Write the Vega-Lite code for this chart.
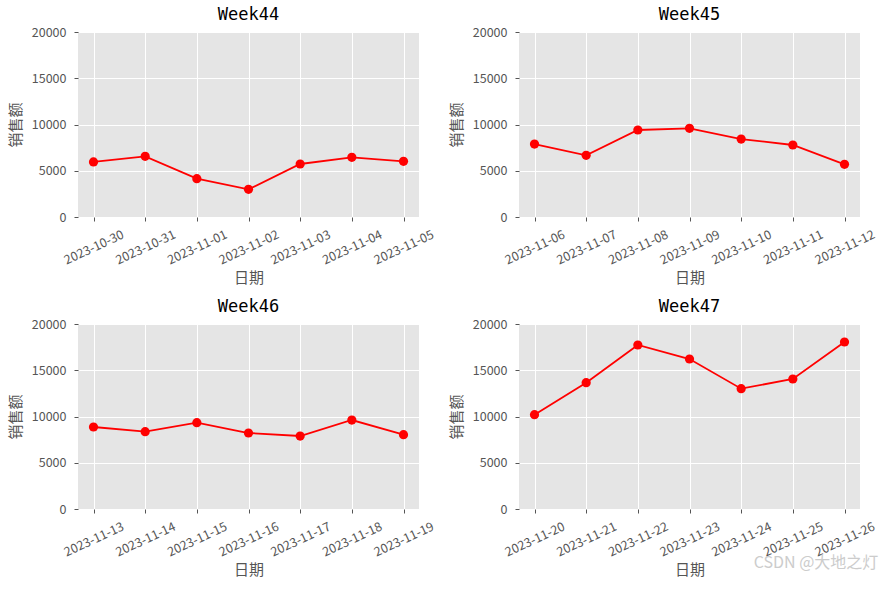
{
  "$schema": "https://vega.github.io/schema/vega-lite/v6.json",
  "padding": {"left": 8, "top": 6, "right": 5, "bottom": 5},
  "background": "white",
  "data": {"values": [
    {"week": "Week44", "date": "2023-10-30", "sales": 5950},
    {"week": "Week44", "date": "2023-10-31", "sales": 6560},
    {"week": "Week44", "date": "2023-11-01", "sales": 4145},
    {"week": "Week44", "date": "2023-11-02", "sales": 2990},
    {"week": "Week44", "date": "2023-11-03", "sales": 5730},
    {"week": "Week44", "date": "2023-11-04", "sales": 6450},
    {"week": "Week44", "date": "2023-11-05", "sales": 6020},
    {"week": "Week45", "date": "2023-11-06", "sales": 7890},
    {"week": "Week45", "date": "2023-11-07", "sales": 6670},
    {"week": "Week45", "date": "2023-11-08", "sales": 9405},
    {"week": "Week45", "date": "2023-11-09", "sales": 9585},
    {"week": "Week45", "date": "2023-11-10", "sales": 8430},
    {"week": "Week45", "date": "2023-11-11", "sales": 7785},
    {"week": "Week45", "date": "2023-11-12", "sales": 5695},
    {"week": "Week46", "date": "2023-11-13", "sales": 8865},
    {"week": "Week46", "date": "2023-11-14", "sales": 8360},
    {"week": "Week46", "date": "2023-11-15", "sales": 9335},
    {"week": "Week46", "date": "2023-11-16", "sales": 8215},
    {"week": "Week46", "date": "2023-11-17", "sales": 7890},
    {"week": "Week46", "date": "2023-11-18", "sales": 9620},
    {"week": "Week46", "date": "2023-11-19", "sales": 8035},
    {"week": "Week47", "date": "2023-11-20", "sales": 10200},
    {"week": "Week47", "date": "2023-11-21", "sales": 13660},
    {"week": "Week47", "date": "2023-11-22", "sales": 17730},
    {"week": "Week47", "date": "2023-11-23", "sales": 16215},
    {"week": "Week47", "date": "2023-11-24", "sales": 13010},
    {"week": "Week47", "date": "2023-11-25", "sales": 14055},
    {"week": "Week47", "date": "2023-11-26", "sales": 18055}
  ]},
  "title": {
    "text": "CSDN @大地之灯",
    "orient": "bottom",
    "anchor": "end",
    "offset": -22,
    "dx": 2,
    "font": "Noto Sans CJK SC",
    "fontSize": 16,
    "fontWeight": "normal",
    "color": "#cccccc"
  },
  "facet": {
    "field": "week",
    "type": "nominal",
    "header": {"title": null}
  },
  "columns": 2,
  "spacing": {"column": 13, "row": 12},
  "resolve": {
    "scale": {"x": "independent"},
    "axis": {"x": "independent", "y": "independent"}
  },
  "spec": {
    "width": 341,
    "height": 185,
    "encoding": {
      "x": {
        "field": "date",
        "type": "ordinal",
        "title": "日期",
        "scale": {"type": "point", "padding": 0.3},
        "axis": {
          "grid": true,
          "labelAngle": -25,
          "labelAlign": "center",
          "labelBaseline": "middle",
          "labelPadding": 26,
          "titlePadding": 4
        }
      },
      "y": {
        "field": "sales",
        "type": "quantitative",
        "title": "销售额",
        "scale": {"domain": [0, 20000], "nice": false},
        "axis": {
          "values": [0, 5000, 10000, 15000, 20000],
          "format": "d",
          "labelPadding": 8,
          "titlePadding": 8
        }
      }
    },
    "layer": [
      {"mark": {"type": "line", "color": "red", "strokeWidth": 1.8}},
      {"mark": {"type": "point", "filled": true, "color": "red", "size": 85, "opacity": 1}}
    ]
  },
  "config": {
    "view": {"fill": "#E5E5E5", "stroke": null},
    "axis": {
      "grid": true,
      "gridColor": "white",
      "gridWidth": 1,
      "domain": false,
      "tickColor": "#555555",
      "tickSize": 4,
      "labelColor": "#555555",
      "labelFont": "Noto Sans CJK SC",
      "labelFontSize": 12.5,
      "titleColor": "#555555",
      "titleFont": "Noto Sans CJK SC",
      "titleFontSize": 15,
      "titleFontWeight": "normal"
    },
    "header": {
      "labelFont": "DejaVu Sans Mono",
      "labelFontSize": 17,
      "labelColor": "black",
      "labelPadding": 2
    }
  }
}
